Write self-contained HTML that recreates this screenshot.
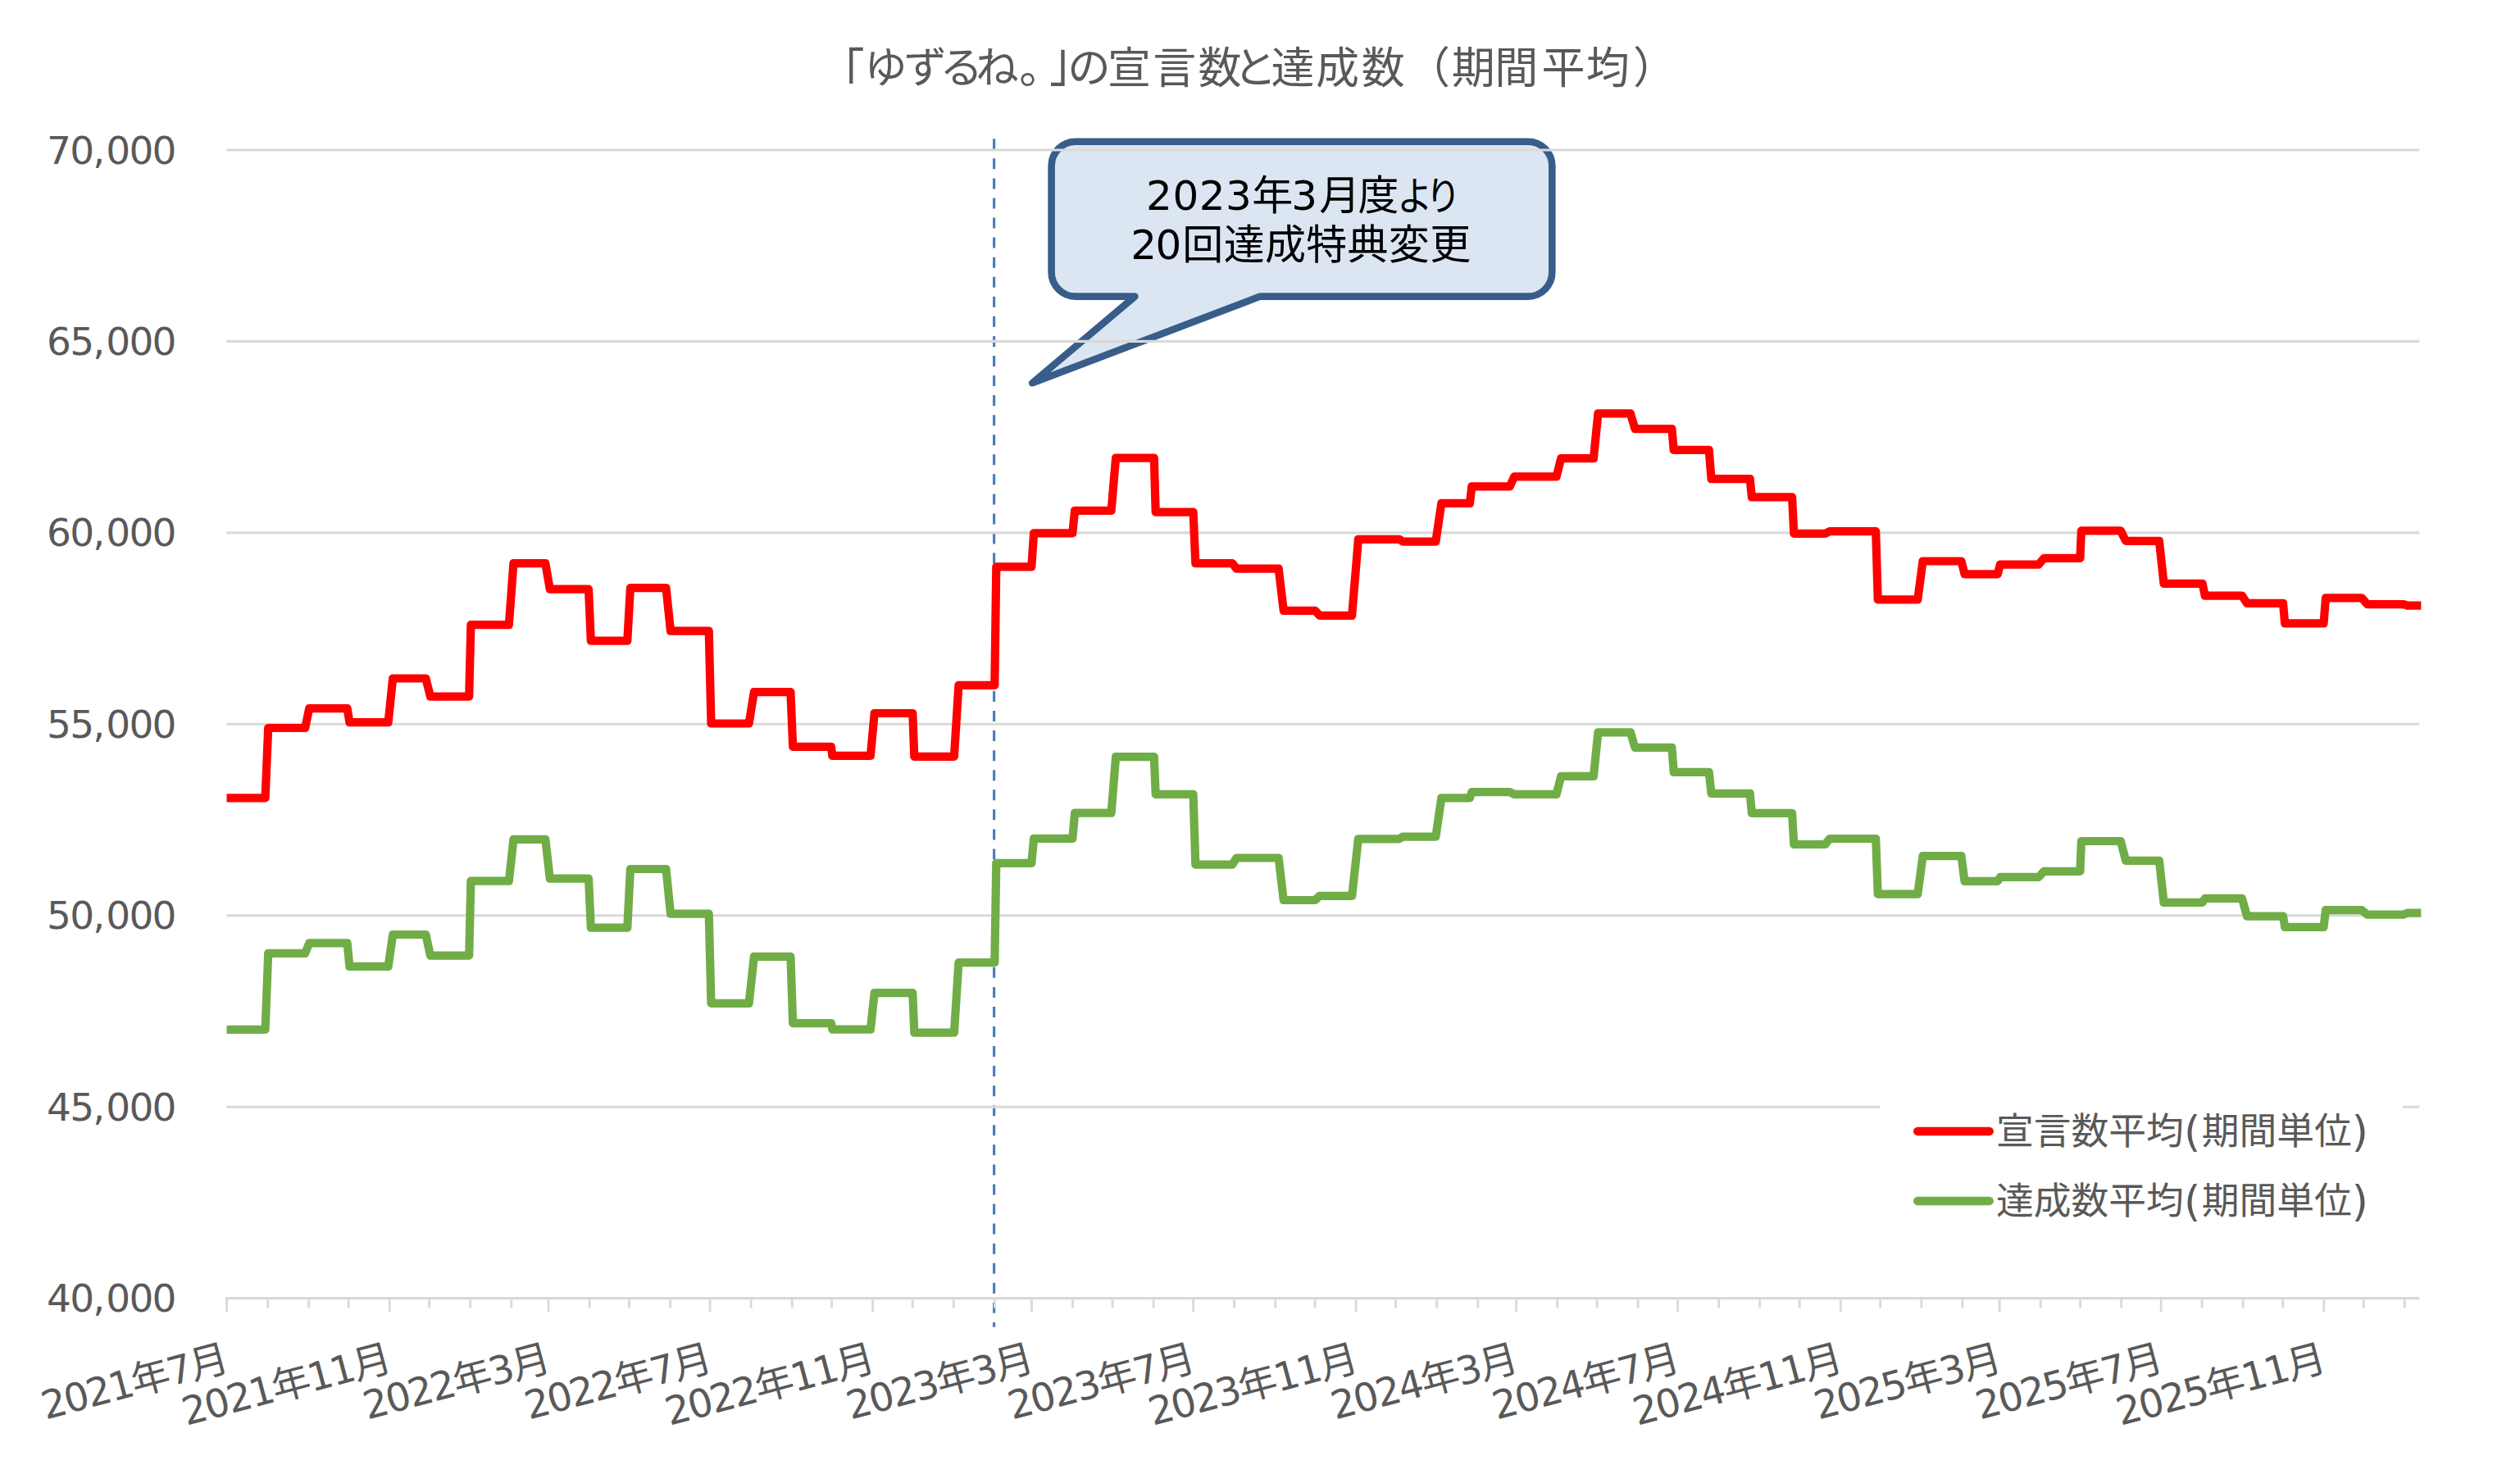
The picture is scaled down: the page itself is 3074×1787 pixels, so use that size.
<!DOCTYPE html>
<html lang="ja"><head><meta charset="utf-8"><title>「ゆずるね。」の宣言数と達成数（期間平均）</title>
<style>html,body{margin:0;padding:0;background:#fff}body{width:3074px;height:1787px;overflow:hidden}svg{display:block}text{font-family:'DejaVu Sans','Liberation Sans','Noto Sans CJK JP',sans-serif;text-spacing-trim:space-all}</style>
</head><body>
<svg width="3074" height="1787" viewBox="0 0 3074 1787">
<rect width="3074" height="1787" fill="#fff"/>
<path d="M1312.1 172.7 H1863.8 A29.5 29.5 0 0 1 1893.3 202.2 V332.1 A29.5 29.5 0 0 1 1863.8 361.6 H1537.1 L1259.2 467.3 L1384.4 361.6 H1312.1 A29.5 29.5 0 0 1 1282.6 332.1 V202.2 A29.5 29.5 0 0 1 1312.1 172.7 Z" fill="#dce6f2" stroke="#385d8a" stroke-width="8.6" stroke-linejoin="round"/>
<g fill="#000" font-size="50px">
<text x="1398.1" y="255.5" dx="0 0.5 0.5 0.5 0.5 -2 2 -2.7 -2.2 -8.3">2023年3月度<tspan font-size="47.5px" textLength="78" lengthAdjust="spacingAndGlyphs">より</tspan></text>
<text x="1379.2" y="315.5" letter-spacing="0.3" dx="0 -1.8 0.7">20回達成特典変更</text>
</g>
<line x1="1212.6" y1="169.3" x2="1212.6" y2="1618.7" stroke="#4a7ebb" stroke-width="3.2" stroke-dasharray="13 11.06"/>
<g stroke="#d9d9d9" stroke-width="3.1" fill="none">
<line x1="276.3" y1="183.0" x2="2951.2" y2="183.0"/>
<line x1="276.3" y1="416.4" x2="2951.2" y2="416.4"/>
<line x1="276.3" y1="649.9" x2="2951.2" y2="649.9"/>
<line x1="276.3" y1="883.3" x2="2951.2" y2="883.3"/>
<line x1="276.3" y1="1116.7" x2="2951.2" y2="1116.7"/>
<line x1="276.3" y1="1350.2" x2="2951.2" y2="1350.2"/>
</g>
<rect x="2293.5" y="1335" width="637.6" height="175" fill="#fff"/>
<g stroke="#d9d9d9" stroke-width="3.1" fill="none">
<line x1="275.1" y1="1583.6" x2="2951.2" y2="1583.6"/>
<path d="M276.6 1583.6 V1600.1 M326.7 1583.6 V1595.6 M376.7 1583.6 V1595.6 M425.2 1583.6 V1595.6 M475.2 1583.6 V1600.1 M523.7 1583.6 V1595.6 M573.8 1583.6 V1595.6 M623.8 1583.6 V1595.6 M669.0 1583.6 V1600.1 M719.1 1583.6 V1595.6 M767.6 1583.6 V1595.6 M817.6 1583.6 V1595.6 M866.1 1583.6 V1600.1 M916.1 1583.6 V1595.6 M966.2 1583.6 V1595.6 M1014.7 1583.6 V1595.6 M1064.7 1583.6 V1600.1 M1113.2 1583.6 V1595.6 M1163.2 1583.6 V1595.6 M1213.3 1583.6 V1595.6 M1258.5 1583.6 V1600.1 M1308.6 1583.6 V1595.6 M1357.0 1583.6 V1595.6 M1407.1 1583.6 V1595.6 M1455.6 1583.6 V1600.1 M1505.6 1583.6 V1595.6 M1555.7 1583.6 V1595.6 M1604.1 1583.6 V1595.6 M1654.2 1583.6 V1600.1 M1702.6 1583.6 V1595.6 M1752.7 1583.6 V1595.6 M1802.8 1583.6 V1595.6 M1849.6 1583.6 V1600.1 M1899.7 1583.6 V1595.6 M1948.1 1583.6 V1595.6 M1998.2 1583.6 V1595.6 M2046.6 1583.6 V1600.1 M2096.7 1583.6 V1595.6 M2146.8 1583.6 V1595.6 M2195.2 1583.6 V1595.6 M2245.3 1583.6 V1600.1 M2293.7 1583.6 V1595.6 M2343.8 1583.6 V1595.6 M2393.9 1583.6 V1595.6 M2439.1 1583.6 V1600.1 M2489.2 1583.6 V1595.6 M2537.6 1583.6 V1595.6 M2587.7 1583.6 V1595.6 M2636.1 1583.6 V1600.1 M2686.2 1583.6 V1595.6 M2736.2 1583.6 V1595.6 M2784.7 1583.6 V1595.6 M2834.8 1583.6 V1600.1 M2883.2 1583.6 V1595.6 M2933.3 1583.6 V1595.6" stroke-width="2.8"/>
</g>
<defs><clipPath id="plot"><rect x="276.3" y="150" width="2677.3" height="1440"/></clipPath></defs>
<g fill="none" stroke-width="10.2" stroke-linejoin="round" stroke-linecap="butt" clip-path="url(#plot)">
<path d="M276.3 1255.8 L323.6 1255.8 L327.2 1162.8 L372.2 1162.8 L377.2 1150.3 L423.6 1150.3 L426.4 1178.9 L473.6 1178.9 L479.2 1140.0 L519.4 1140.0 L525.0 1165.6 L572.2 1165.6 L574.4 1074.7 L620.8 1074.7 L626.4 1023.9 L665.3 1023.9 L670.8 1071.7 L718.0 1071.7 L720.8 1131.7 L765.3 1131.7 L768.9 1060.0 L812.5 1060.0 L818.0 1114.7 L864.7 1114.7 L867.5 1223.9 L913.6 1223.9 L919.8 1166.9 L964.4 1166.9 L967.2 1248.1 L1013.9 1248.1 L1015.3 1255.6 L1061.9 1255.6 L1066.7 1211.1 L1113.3 1211.1 L1115.3 1259.7 L1163.9 1259.7 L1169.4 1174.2 L1213.3 1174.2 L1215.3 1052.8 L1258.3 1052.8 L1261.1 1022.8 L1308.3 1022.8 L1311.1 991.7 L1355.6 991.7 L1361.1 923.1 L1407.8 923.1 L1409.7 968.9 L1455.6 968.9 L1458.3 1054.7 L1503.3 1054.7 L1508.3 1046.5 L1559.7 1046.5 L1565.8 1098.0 L1604.2 1098.0 L1609.7 1092.8 L1649.2 1092.8 L1656.9 1023.3 L1706.9 1023.3 L1711.1 1020.6 L1751.4 1020.6 L1758.3 973.3 L1793.0 973.3 L1795.3 966.1 L1841.7 966.1 L1847.2 968.9 L1898.6 968.9 L1904.2 946.9 L1943.9 946.9 L1949.4 893.3 L1988.9 893.3 L1994.4 911.9 L2039.4 911.9 L2041.7 941.9 L2084.7 941.9 L2087.5 967.8 L2134.7 967.8 L2136.9 991.9 L2186.1 991.9 L2188.3 1030.0 L2226.4 1030.0 L2231.9 1023.0 L2288.2 1023.0 L2290.7 1090.7 L2339.3 1090.7 L2345.5 1044.2 L2392.5 1044.2 L2396.5 1074.9 L2436.8 1074.9 L2439.9 1069.9 L2486.9 1069.9 L2493.4 1062.8 L2537.4 1062.8 L2538.9 1026.0 L2586.9 1026.0 L2593.1 1049.8 L2633.9 1049.8 L2639.5 1100.9 L2686.6 1100.9 L2689.7 1095.9 L2734.9 1095.9 L2741.0 1117.6 L2785.0 1117.6 L2787.2 1130.9 L2834.5 1130.9 L2837.0 1110.2 L2881.0 1110.2 L2887.8 1115.7 L2932.0 1115.7 L2936.7 1113.6 L2953.6 1113.6" stroke="#70ad47"/>
<path d="M276.3 973.3 L323.6 973.3 L327.2 888.0 L372.2 888.0 L377.2 864.2 L423.6 864.2 L426.4 881.1 L473.6 881.1 L479.2 827.5 L519.4 827.5 L525.0 849.7 L572.2 849.7 L574.4 762.2 L620.8 762.2 L626.4 687.2 L665.3 687.2 L670.8 718.6 L718.0 718.6 L720.8 781.7 L765.3 781.7 L768.9 717.2 L812.5 717.2 L818.0 769.7 L864.7 769.7 L867.5 882.5 L913.6 882.5 L919.8 844.2 L964.4 844.2 L967.2 910.8 L1013.9 910.8 L1015.3 921.9 L1061.9 921.9 L1066.7 870.0 L1113.3 870.0 L1115.3 922.8 L1163.9 922.8 L1169.4 835.8 L1213.3 835.8 L1215.3 691.4 L1258.3 691.4 L1261.1 650.3 L1308.3 650.3 L1311.1 622.8 L1355.6 622.8 L1361.1 558.6 L1407.8 558.6 L1409.7 624.7 L1455.6 624.7 L1458.3 687.2 L1503.3 687.2 L1508.3 693.7 L1559.7 693.7 L1565.8 744.8 L1604.2 744.8 L1609.7 750.8 L1649.2 750.8 L1656.9 657.8 L1706.9 657.8 L1711.1 660.6 L1751.4 660.6 L1758.3 613.9 L1793.0 613.9 L1795.3 593.3 L1841.7 593.3 L1847.2 581.4 L1898.6 581.4 L1904.2 559.2 L1943.9 559.2 L1949.4 504.4 L1988.9 504.4 L1994.4 523.1 L2039.4 523.1 L2041.7 548.9 L2084.7 548.9 L2087.5 584.2 L2134.7 584.2 L2136.9 606.4 L2186.1 606.4 L2188.3 650.8 L2226.4 650.8 L2231.9 648.2 L2288.2 648.2 L2290.7 731.3 L2339.3 731.3 L2345.5 684.5 L2392.5 684.5 L2396.5 700.3 L2436.8 700.3 L2439.9 688.6 L2486.9 688.6 L2493.4 680.8 L2537.4 680.8 L2538.9 647.4 L2586.9 647.4 L2593.1 659.8 L2633.9 659.8 L2639.5 711.8 L2686.6 711.8 L2689.7 726.6 L2734.9 726.6 L2741.0 735.9 L2785.0 735.9 L2787.2 760.4 L2834.5 760.4 L2837.0 729.4 L2881.0 729.4 L2887.8 737.2 L2932.0 737.2 L2936.7 738.7 L2953.6 738.7" stroke="#ff0000"/>
</g>
<g stroke-width="10.5" stroke-linecap="round">
<line x1="2339.2" y1="1379.9" x2="2426.7" y2="1379.9" stroke="#ff0000"/>
<line x1="2339.2" y1="1464.9" x2="2426.7" y2="1464.9" stroke="#70ad47"/>
</g>
<g fill="#595959" font-size="45.8px">
<text x="2434.9" y="1396">宣言数平均<tspan font-size="52px" dy="1.5" letter-spacing="1.5">(</tspan><tspan dy="-1.5">期間単位</tspan><tspan font-size="52px" dy="1.5">)</tspan></text>
<text x="2434.9" y="1481">達成数平均<tspan font-size="52px" dy="1.5" letter-spacing="1.5">(</tspan><tspan dy="-1.5">期間単位</tspan><tspan font-size="52px" dy="1.5">)</tspan></text>
</g>
<g fill="#595959" font-size="47px" text-anchor="end" letter-spacing="-1.8">
<text x="213.6" y="199.5" dx="0 0 0 2.9">70,000</text>
<text x="213.6" y="432.9" dx="0 0 0 2.9">65,000</text>
<text x="213.6" y="666.4" dx="0 0 0 2.9">60,000</text>
<text x="213.6" y="899.8" dx="0 0 0 2.9">55,000</text>
<text x="213.6" y="1133.2" dx="0 0 0 2.9">50,000</text>
<text x="213.6" y="1366.7" dx="0 0 0 2.9">45,000</text>
<text x="213.6" y="1600.1" dx="0 0 0 2.9">40,000</text>
</g>
<g fill="#595959" font-size="47.5px" text-anchor="end" letter-spacing="-2.0">
<text transform="translate(280.0,1671.6) rotate(-15)">2021年7月</text>
<text transform="translate(478.6,1671.6) rotate(-15)">2021年11月</text>
<text transform="translate(672.4,1671.6) rotate(-15)">2022年3月</text>
<text transform="translate(869.5,1671.6) rotate(-15)">2022年7月</text>
<text transform="translate(1068.1,1671.6) rotate(-15)">2022年11月</text>
<text transform="translate(1261.9,1671.6) rotate(-15)">2023年3月</text>
<text transform="translate(1459.0,1671.6) rotate(-15)">2023年7月</text>
<text transform="translate(1657.6,1671.6) rotate(-15)">2023年11月</text>
<text transform="translate(1853.0,1671.6) rotate(-15)">2024年3月</text>
<text transform="translate(2050.0,1671.6) rotate(-15)">2024年7月</text>
<text transform="translate(2248.7,1671.6) rotate(-15)">2024年11月</text>
<text transform="translate(2442.5,1671.6) rotate(-15)">2025年3月</text>
<text transform="translate(2639.5,1671.6) rotate(-15)">2025年7月</text>
<text transform="translate(2838.2,1671.6) rotate(-15)">2025年11月</text>
</g>
<text fill="#595959" font-size="53px" text-anchor="middle" x="1026.9 1080.4 1128.8 1172.7 1216.6 1269.7 1307.8 1328.5 1377.5 1432.8 1487.9 1531.0 1576.9 1631.6 1687.3 1742.5 1797.2 1849.8 1907.1 1961.2 2018.4" y="107.8 101.3 101.3 101.3 101.3 101.6 101.3 101.3 101.6 101.6 101.6 101.3 101.6 101.6 101.6 101.6 101.6 101.6 101.6 101.6 101.6"><tspan font-size="61px" font-family="IPAGothic,'Noto Sans CJK JP',sans-serif">「</tspan><tspan font-size="52.5px">ゆずるね</tspan>。<tspan font-size="61px" font-family="IPAGothic,'Noto Sans CJK JP',sans-serif">」</tspan><tspan font-size="52.5px">の</tspan>宣言数<tspan font-size="52.5px">と</tspan>達成数（期間平均）</text>
</svg>
</body></html>
